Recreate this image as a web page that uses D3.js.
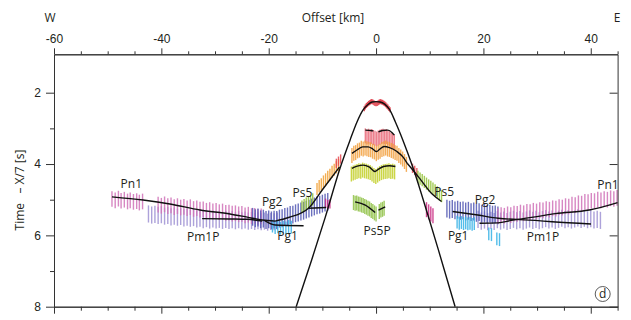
<!DOCTYPE html>
<html>
<head>
<meta charset="utf-8">
<script src="https://cdn.jsdelivr.net/npm/d3@7"></script>
<style>
  html, body { margin: 0; padding: 0; background: #fff; }
  svg { display: block; font-family: "Open Sans", "Noto Sans", sans-serif; }
  .lbl { font-size: 12px; fill: #231f20; }
</style>
</head>
<body>
<svg id="chart" width="631" height="320"></svg>
<script>
// ---- axis ticks ----
const xMajor = [-60, -40, -20, 0, 20, 40];
const xMinor = [-55, -50, -45, -35, -30, -25, -15, -10, -5, 5, 10, 15, 25, 30, 35, 45];
const yMajor = [2, 4, 6, 8];
const yMinor = [3, 5, 7];

// ---- modelled travel-time branches [offset km, reduced time s] ----
const curveDirect = [[-14.88, 8.0], [-12.0, 6.69], [-9.5, 5.51], [-6.7, 4.11], [-4.85, 3.33], [-3.55, 2.82],
  [-2.45, 2.49], [-1.5, 2.33], [-0.75, 2.26], [0, 2.25], [0.76, 2.26], [1.6, 2.32], [2.5, 2.47], [3.6, 2.82],
  [5.0, 3.33], [6.9, 4.11], [9.6, 5.40], [11.6, 6.40], [14.73, 8.0]];
const curvePn1W = [[-49.2, 4.92], [-43.4, 5.01], [-38.4, 5.12], [-32.8, 5.29], [-27.2, 5.40], [-24.0, 5.49], [-21.2, 5.57], [-18.8, 5.60]];
const curvePm1PW = [[-32.4, 5.53], [-27.2, 5.54], [-24.0, 5.55], [-21.2, 5.60]];
const curvePg2W = [[-18.8, 5.60], [-16.3, 5.50], [-12.6, 5.24], [-10.0, 4.72], [-6.8, 4.08]];
const curvePg2Wb = [[-12.6, 5.24], [-9.3, 5.22]];
const curvePg1W = [[-20.8, 5.58], [-18.8, 5.71], [-13.5, 5.73]];
const curveBand2a = [[-2.0, 3.05], [-1.0, 3.06], [-0.5, 3.07]];
const curveBand2b = [[0.45, 3.10], [1.2, 3.06], [2.2, 3.05], [3.0, 3.12], [3.4, 3.19]];
const curveBand3 = [[-4.5, 3.70], [-3.5, 3.60], [-2.5, 3.52], [-1.5, 3.52], [-0.6, 3.58], [0.1, 3.65], [0.7, 3.58],
  [1.5, 3.51], [2.5, 3.54], [3.9, 3.65], [5.0, 3.80], [5.8, 3.98]];
const curveBand4 = [[-4.5, 4.12], [-3.5, 4.06], [-2.4, 4.03], [-1.3, 4.08], [-0.2, 4.21], [0.4, 4.15], [1.4, 4.07], [2.5, 4.05], [3.6, 4.07]];
const curvePs5Pa = [[-3.9, 5.06], [-2.0, 5.15], [-0.17, 5.36]];
const curvePs5Pb = [[0.45, 5.29], [1.7, 5.20]];
const curvePs5E = [[5.8, 3.98], [8.0, 4.38], [10.5, 4.85], [12.2, 5.05]];
const curvePm1PE = [[14.25, 5.33], [18.96, 5.43], [22.74, 5.52], [29.65, 5.58], [32.79, 5.62], [40.04, 5.68]];
const curvePn1E = [[19.27, 5.66], [22.74, 5.65], [25.25, 5.58], [29.65, 5.48], [33.43, 5.39], [39.72, 5.29], [45.0, 5.08]];

// ---- picked arrivals [offset km, reduced time s] ----
const picksPn1W = [[-49.2, 4.98], [-48.6, 5.02], [-48.0, 4.97], [-47.5, 5.03], [-46.9, 5.00], [-46.3, 5.05], [-45.8, 5.02],
  [-45.2, 5.06], [-44.6, 5.04], [-44.1, 5.08], [-43.5, 5.05],
  [-40.6, 5.14], [-40.0, 5.17], [-39.4, 5.13], [-38.8, 5.18], [-38.2, 5.16], [-37.6, 5.21], [-37.0, 5.18], [-36.4, 5.22],
  [-35.8, 5.20], [-35.2, 5.24], [-34.6, 5.21], [-34.0, 5.26], [-33.4, 5.24], [-32.8, 5.28], [-32.2, 5.27], [-31.6, 5.31],
  [-31.0, 5.29], [-30.4, 5.33], [-29.8, 5.31], [-29.2, 5.35], [-28.6, 5.33], [-28.0, 5.37], [-27.4, 5.36], [-26.8, 5.39],
  [-26.2, 5.38], [-25.6, 5.41], [-25.0, 5.40], [-24.4, 5.44], [-23.8, 5.42], [-23.2, 5.46], [-22.6, 5.45], [-22.0, 5.48], [-21.4, 5.47]];
const picksPm1PW = [[-42.4, 5.40], [-41.8, 5.43], [-41.2, 5.41], [-40.6, 5.44], [-40.0, 5.42], [-39.4, 5.46], [-38.8, 5.44],
  [-38.2, 5.48], [-37.6, 5.46], [-37.0, 5.49], [-36.4, 5.47], [-35.8, 5.51], [-35.2, 5.49], [-34.6, 5.52], [-34.0, 5.50],
  [-33.4, 5.54], [-32.8, 5.52], [-32.2, 5.56], [-31.6, 5.53], [-31.0, 5.57], [-30.4, 5.54], [-29.8, 5.57], [-29.2, 5.55],
  [-28.6, 5.58], [-28.0, 5.55], [-27.4, 5.58], [-26.8, 5.56], [-26.2, 5.59], [-25.6, 5.56], [-25.0, 5.59], [-24.4, 5.57],
  [-23.8, 5.60], [-23.2, 5.58], [-22.6, 5.61], [-22.0, 5.59], [-21.4, 5.62], [-20.8, 5.60], [-20.2, 5.63], [-19.6, 5.61],
  [-19.0, 5.62], [-18.4, 5.60]];
const picksPg2W = [[-23.0, 5.48], [-22.5, 5.52], [-22.0, 5.50], [-21.5, 5.55], [-21.0, 5.53], [-20.5, 5.57], [-20.0, 5.55],
  [-19.5, 5.58], [-19.0, 5.56], [-18.5, 5.57], [-18.0, 5.53], [-17.5, 5.52], [-17.0, 5.48], [-16.5, 5.47], [-16.0, 5.43],
  [-15.5, 5.42], [-15.0, 5.38], [-14.5, 5.36], [-14.0, 5.33], [-13.5, 5.31], [-13.0, 5.28], [-12.5, 5.25], [-12.0, 5.22],
  [-11.5, 5.19], [-11.0, 5.16], [-10.5, 5.14], [-10.0, 5.11], [-9.5, 5.08], [-9.0, 5.06]];
const picksPg1W = [[-19.3, 5.74], [-18.8, 5.78], [-18.3, 5.76], [-17.8, 5.80], [-17.3, 5.77], [-16.8, 5.79], [-16.3, 5.75], [-15.8, 5.77]];
const picksPs5WGreen = [[-13.8, 5.19], [-13.4, 5.15], [-13.0, 5.11], [-12.6, 5.07], [-12.2, 5.03], [-11.8, 4.99]];
const picksPs5WOrange = [[-11.0, 4.70], [-10.6, 4.62], [-10.2, 4.57], [-9.8, 4.49], [-9.4, 4.43], [-9.0, 4.36], [-8.6, 4.30],
  [-8.2, 4.22], [-7.8, 4.16], [-7.4, 4.09], [-7.0, 4.03]];
const picksRedW = [[-7.4, 3.98], [-7.0, 3.92], [-6.6, 3.86]];
const picksMagW = [[-9.4, 5.10], [-9.0, 5.14], [-8.6, 5.12]];
const picksApex = [[-2.2, 2.45], [-2.0, 2.40], [-1.8, 2.36], [-1.6, 2.33], [-1.4, 2.30], [-1.2, 2.28], [-1.0, 2.26], [-0.8, 2.25],
  [-0.6, 2.26], [-0.4, 2.28], [-0.2, 2.30], [0.0, 2.31], [0.2, 2.30], [0.4, 2.28], [0.6, 2.26], [0.8, 2.25], [1.0, 2.26],
  [1.2, 2.27], [1.4, 2.29], [1.6, 2.31], [1.8, 2.34], [2.0, 2.37], [2.2, 2.40], [2.4, 2.44], [2.6, 2.48]];
const picksBand2 = [[-2.0, 3.21], [-1.7, 3.24], [-1.4, 3.22], [-1.1, 3.25], [-0.8, 3.23], [-0.5, 3.26], [-0.2, 3.28], [0.1, 3.30],
  [0.4, 3.27], [0.7, 3.25], [1.0, 3.23], [1.3, 3.22], [1.6, 3.24], [1.9, 3.23], [2.2, 3.26], [2.5, 3.29], [2.8, 3.33], [3.1, 3.36], [3.4, 3.38]];
const picksBand3 = [[-4.50, 3.76], [-4.15, 3.70], [-3.80, 3.68], [-3.45, 3.63], [-3.10, 3.61], [-2.75, 3.56], [-2.40, 3.58],
  [-2.05, 3.55], [-1.70, 3.57], [-1.35, 3.59], [-1.00, 3.60], [-0.65, 3.64], [-0.30, 3.66], [0.05, 3.71], [0.40, 3.67],
  [0.75, 3.64], [1.10, 3.59], [1.45, 3.57], [1.80, 3.55], [2.15, 3.58], [2.50, 3.59], [2.85, 3.62], [3.20, 3.64], [3.55, 3.68],
  [3.90, 3.70], [4.25, 3.76], [4.60, 3.80], [4.95, 3.86], [5.30, 3.93], [5.65, 4.01]];
const picksBand4 = [[-4.60, 4.28], [-4.25, 4.25], [-3.90, 4.23], [-3.55, 4.21], [-3.20, 4.19], [-2.85, 4.20], [-2.50, 4.17],
  [-2.15, 4.19], [-1.80, 4.20], [-1.45, 4.22], [-1.10, 4.24], [-0.75, 4.28], [-0.40, 4.32], [-0.05, 4.35], [0.30, 4.31],
  [0.65, 4.27], [1.00, 4.24], [1.35, 4.22], [1.70, 4.21], [2.05, 4.20], [2.40, 4.19], [2.75, 4.21], [3.10, 4.20], [3.45, 4.22]];
const picksPs5P = [[-4.2, 5.08], [-3.9, 5.10], [-3.6, 5.09], [-3.3, 5.12], [-3.0, 5.13], [-2.7, 5.15], [-2.4, 5.16], [-2.1, 5.19],
  [-1.8, 5.21], [-1.5, 5.24], [-1.2, 5.26], [-0.9, 5.30], [-0.6, 5.33], [-0.3, 5.37], [0.0, 5.40], [0.6, 5.33], [0.9, 5.29],
  [1.2, 5.27], [1.5, 5.24]];
const picksRedE = [[6.8, 4.12], [7.2, 4.18], [7.6, 4.24]];
const picksPs5EGreen = [[7.8, 4.36], [8.2, 4.41], [8.6, 4.45], [9.0, 4.50], [9.4, 4.55], [9.8, 4.60], [10.2, 4.64], [10.6, 4.69],
  [11.0, 4.74], [11.4, 4.79], [11.8, 4.85], [12.2, 4.90]];
const picksMagE = [[9.4, 5.28], [9.8, 5.34], [10.2, 5.40], [10.6, 5.45]];
const picksPg2E = [[13.2, 5.25], [13.7, 5.28], [14.2, 5.26], [14.7, 5.30], [15.2, 5.28], [15.7, 5.31], [16.2, 5.30], [16.7, 5.33],
  [17.2, 5.31], [17.7, 5.35], [18.2, 5.33], [18.7, 5.37], [19.2, 5.35], [19.7, 5.39], [20.2, 5.37], [20.7, 5.40], [21.2, 5.39],
  [21.7, 5.42], [22.2, 5.41], [22.7, 5.44]];
const picksPg1E = [[15.1, 5.63], [15.5, 5.66], [15.9, 5.64], [16.3, 5.67], [16.7, 5.65], [17.1, 5.68], [17.5, 5.66], [17.9, 5.69],
  [18.3, 5.67], [21.0, 5.96], [21.5, 5.98], [22.5, 6.10], [23.0, 6.12]];
const picksPm1PE = [[19.0, 5.55], [19.6, 5.60], [20.2, 5.57], [20.8, 5.62], [21.4, 5.58], [22.0, 5.61], [22.6, 5.56], [23.2, 5.60],
  [23.8, 5.57], [24.4, 5.61], [25.0, 5.58], [25.6, 5.55], [26.2, 5.59], [26.8, 5.56], [27.4, 5.60], [28.0, 5.57], [28.6, 5.54],
  [29.2, 5.58], [29.8, 5.55], [30.4, 5.59], [31.0, 5.56], [31.6, 5.53], [32.2, 5.57], [32.8, 5.54], [33.4, 5.58], [34.0, 5.55],
  [34.6, 5.52], [35.2, 5.56], [35.8, 5.53], [36.4, 5.57], [37.0, 5.54], [37.6, 5.51], [38.2, 5.55], [38.8, 5.52], [39.4, 5.56],
  [40.0, 5.53], [40.6, 5.57], [41.2, 5.55], [41.8, 5.58]];
const picksPn1E = [[22.7, 5.46], [23.3, 5.43], [23.9, 5.45], [24.5, 5.41], [25.1, 5.43], [25.7, 5.39], [26.3, 5.40], [26.9, 5.36],
  [27.5, 5.38], [28.1, 5.34], [28.7, 5.35], [29.3, 5.31], [29.9, 5.33], [30.5, 5.29], [31.1, 5.30], [31.7, 5.26], [32.3, 5.28],
  [32.9, 5.24], [33.5, 5.25], [34.1, 5.21], [34.7, 5.22], [35.3, 5.18], [35.9, 5.19], [36.5, 5.14], [37.1, 5.15], [37.7, 5.10],
  [38.3, 5.11], [38.9, 5.06], [39.5, 5.07], [40.1, 5.03], [40.7, 5.04], [41.3, 5.00], [41.9, 5.02], [42.5, 4.98], [43.1, 5.00],
  [43.7, 4.96], [44.3, 4.98], [44.9, 4.95]];

// pick uncertainty (half length of each bar, s)
const errPn1 = 0.22, errPm1P = 0.24, errPg2 = 0.25, errPg1 = 0.18, errPs5 = 0.17, errApex = 0.07, errBand = 0.21, errSmall = 0.13;

// ---- phase annotations [text, offset km, reduced time s at baseline] ----
const phaseLabels = [["Pn1", -45.6, 4.67], ["Pm1P", -32.2, 6.15], ["Pg2", -19.35, 5.18], ["Pg1", -16.5, 6.13],
  ["Ps5", -13.7, 4.92], ["Ps5P", 0.2, 5.99], ["Ps5", 12.7, 4.90], ["Pg2", 20.3, 5.12], ["Pg1", 15.3, 6.13],
  ["Pm1P", 31.1, 6.15], ["Pn1", 43.2, 4.70]];

const svg = d3.select("#chart");
const x = d3.scaleLinear().domain([-60, 45]).range([54, 617.6]);
const y = d3.scaleLinear().domain([2, 8]).range([92.7, 306.7]);
const yTop = y.invert(54.3);

// picks (drawn first, curves on top)
const pickLayers = [
  [picksPm1PW, "#9f92d4", errPm1P], [picksPn1W, "#d173b9", errPn1], [picksPg2W, "#5359b4", errPg2],
  [picksPg1W, "#35b2e6", errPg1], [picksPs5WGreen, "#94c238", errPs5], [picksPs5WOrange, "#f2a033", errPs5],
  [picksRedW, "#e6474f", errSmall], [picksMagW, "#c92a82", errSmall],
  [picksApex, "#dd2836", errApex], [picksBand2, "#ea6a7a", errBand], [picksBand3, "#f3a03e", errBand],
  [picksBand4, "#c2cf26", errBand], [picksPs5P, "#8fc145", errBand],
  [picksRedE, "#e6474f", errSmall], [picksPs5EGreen, "#94c238", errPs5], [picksMagE, "#c92a82", errBand],
  [picksPm1PE, "#9f92d4", errPm1P], [picksPg2E, "#5359b4", errPg2], [picksPg1E, "#35b2e6", errPg1],
  [picksPn1E, "#d173b9", errPn1]
];
const gPicks = svg.append("g");
pickLayers.forEach(([data, color, err]) => {
  gPicks.append("g")
    .attr("stroke", color).attr("stroke-width", 1.4).attr("opacity", 0.85)
    .selectAll("line").data(data).join("line")
    .attr("x1", d => x(d[0])).attr("x2", d => x(d[0]))
    .attr("y1", d => y(d[1] - err)).attr("y2", d => y(Math.min(d[1] + err, 8)));
});

// travel-time curves
const line = d3.line().x(d => x(d[0])).y(d => y(d[1])).curve(d3.curveMonotoneX);
const gCurves = svg.append("g").attr("fill", "none").attr("stroke", "#111").attr("stroke-width", 1.4);
[curveDirect, curvePn1W, curvePm1PW, curvePg2W, curvePg2Wb, curvePg1W, curveBand2a, curveBand2b, curveBand3,
 curveBand4, curvePs5Pa, curvePs5Pb, curvePs5E, curvePm1PE, curvePn1E].forEach(c => {
  gCurves.append("path").attr("d", line(c));
});

// axes
const axisColor = "#333";
function styleAxis(g) {
  g.select(".domain").attr("stroke", axisColor);
  g.selectAll(".tick line").attr("stroke", axisColor);
  g.selectAll(".tick text").attr("class", "lbl").attr("font-size", 12).attr("font-family", null).attr("fill", "#231f20");
}
const topMajor = svg.append("g").attr("transform", `translate(0,${y(yTop)})`)
  .call(d3.axisTop(x).tickValues(xMajor).tickSize(6).tickSizeOuter(0).tickPadding(5).tickFormat(d => String(d)));
styleAxis(topMajor);
const topMinor = svg.append("g").attr("transform", `translate(0,${y(yTop)})`)
  .call(d3.axisTop(x).tickValues(xMinor).tickSize(3).tickSizeOuter(0).tickFormat(""));
styleAxis(topMinor);

const botMajor = svg.append("g").attr("transform", `translate(0,${y(8)})`)
  .call(d3.axisBottom(x).tickValues(xMajor).tickSize(7).tickSizeOuter(0).tickFormat(""));
styleAxis(botMajor);
const botMinor = svg.append("g").attr("transform", `translate(0,${y(8)})`)
  .call(d3.axisBottom(x).tickValues(xMinor).tickSize(4).tickSizeOuter(0).tickFormat(""));
styleAxis(botMinor);

const yAxisScale = y.copy().domain([yTop, 8]).range([y(yTop), y(8)]);
const leftMajor = svg.append("g").attr("transform", `translate(${x(-60)},0)`)
  .call(d3.axisLeft(yAxisScale).tickValues(yMajor).tickSize(8).tickSizeOuter(0).tickPadding(5).tickFormat(d => String(d)));
styleAxis(leftMajor);
const leftMinor = svg.append("g").attr("transform", `translate(${x(-60)},0)`)
  .call(d3.axisLeft(yAxisScale).tickValues(yMinor).tickSize(4).tickSizeOuter(0).tickFormat(""));
styleAxis(leftMinor);
const right = svg.append("g").attr("transform", `translate(${x(45)},0)`)
  .call(d3.axisLeft(yAxisScale).tickValues(yMajor).tickSize(8).tickSizeOuter(0).tickFormat(""));
styleAxis(right);

// axis titles
svg.append("text").attr("class", "lbl").attr("x", 333).attr("y", 22).attr("text-anchor", "middle").text("Offset [km]");
svg.append("text").attr("class", "lbl").attr("x", 50).attr("y", 22).attr("text-anchor", "middle").text("W");
svg.append("text").attr("class", "lbl").attr("x", 617).attr("y", 22).attr("text-anchor", "middle").text("E");
svg.append("text").attr("class", "lbl").attr("transform", "translate(24,190) rotate(-90)")
  .attr("text-anchor", "middle").attr("xml:space", "preserve").style("white-space", "pre")
  .text("Time   \u2013 X/7 [s]");

// phase names
svg.append("g").selectAll("text").data(phaseLabels).join("text")
  .attr("class", "lbl").attr("text-anchor", "middle")
  .attr("x", d => x(d[1])).attr("y", d => y(d[2])).text(d => d[0]);

// panel tag
svg.append("circle").attr("cx", 602.7).attr("cy", 294).attr("r", 7.5).attr("fill", "none").attr("stroke", "#333").attr("stroke-width", 0.8);
svg.append("text").attr("class", "lbl").attr("x", 602.7).attr("y", 298.2).attr("text-anchor", "middle").text("d");
</script>
</body>
</html>
